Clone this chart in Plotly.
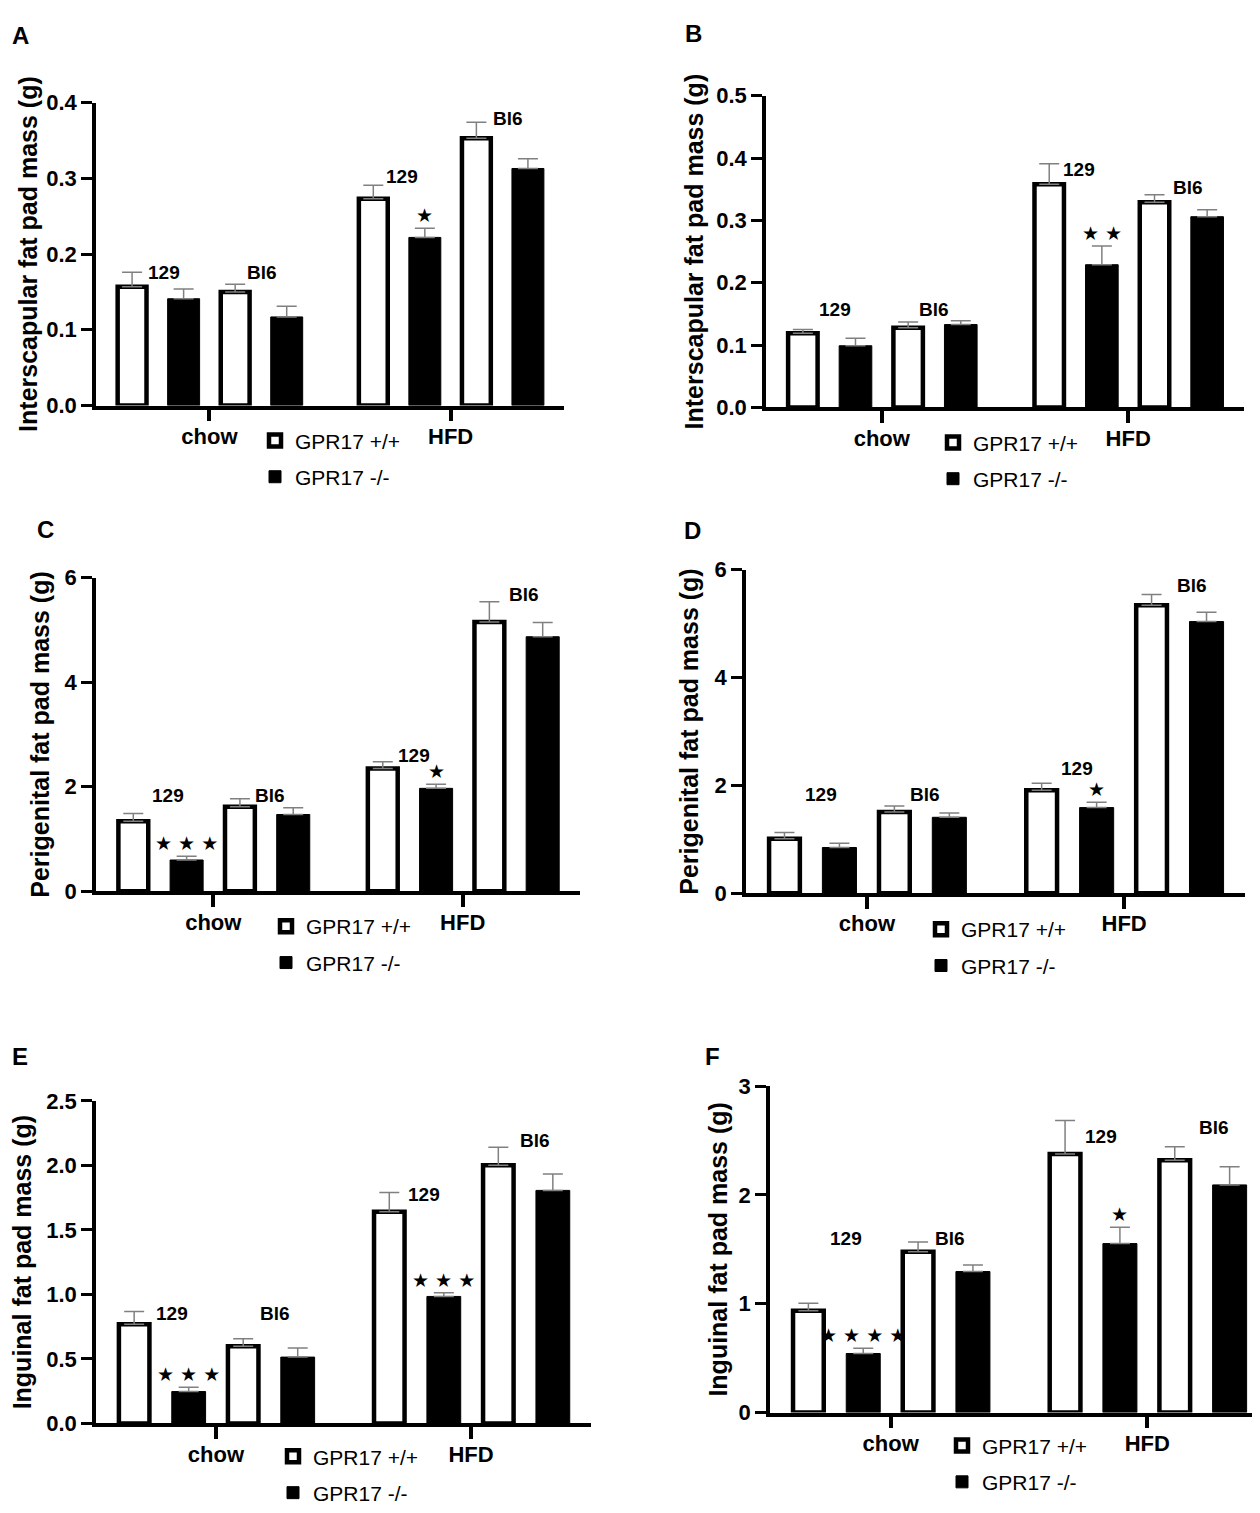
import plotly.graph_objects as go

FONT = "Liberation Sans, Arial, sans-serif"

diet_labels = ["chow", "HFD"]
legend_names = ["GPR17 +/+", "GPR17 -/-"]
# bar order in every panel: chow 129, chow Bl6, HFD 129, HFD Bl6
groups = ["chow 129", "chow Bl6", "HFD 129", "HFD Bl6"]

# A - interscapular, males
a_wt = [0.157, 0.150, 0.273, 0.353]
a_wt_sem = [0.019, 0.010, 0.018, 0.021]
a_ko = [0.141, 0.117, 0.222, 0.313]
a_ko_sem = [0.013, 0.014, 0.012, 0.013]
a_stars = ["", "", "★", ""]

# B - interscapular, females
b_wt = [0.119, 0.128, 0.358, 0.329]
b_wt_sem = [0.006, 0.009, 0.033, 0.012]
b_ko = [0.099, 0.133, 0.229, 0.306]
b_ko_sem = [0.012, 0.006, 0.030, 0.011]
b_stars = ["", "", "★ ★", ""]

# C - perigenital, males
c_wt = [1.34, 1.62, 2.35, 5.15]
c_wt_sem = [0.15, 0.15, 0.13, 0.39]
c_ko = [0.60, 1.47, 1.97, 4.87]
c_ko_sem = [0.07, 0.13, 0.08, 0.27]
c_stars = ["★ ★ ★", "", "★", ""]

# D - perigenital, females
d_wt = [1.01, 1.51, 1.91, 5.34]
d_wt_sem = [0.12, 0.11, 0.13, 0.20]
d_ko = [0.85, 1.41, 1.59, 5.04]
d_ko_sem = [0.08, 0.08, 0.10, 0.17]
d_stars = ["", "", "★", ""]

# E - inguinal, males
e_wt = [0.768, 0.598, 1.64, 2.00]
e_wt_sem = [0.10, 0.058, 0.15, 0.14]
e_ko = [0.247, 0.514, 0.984, 1.806]
e_ko_sem = [0.033, 0.071, 0.028, 0.127]
e_stars = ["★ ★ ★", "", "★ ★ ★", ""]

# F - inguinal, females
f_wt = [0.935, 1.477, 2.376, 2.318]
f_wt_sem = [0.069, 0.091, 0.307, 0.124]
f_ko = [0.543, 1.296, 1.553, 2.092]
f_ko_sem = [0.048, 0.061, 0.150, 0.166]
f_stars = ["★ ★ ★ ★", "", "★", ""]

# strain labels written over the bars (text, x in bar units, y in data units)
a_strain = [("129", -0.88, 0.176), ("Bl6", 1.03, 0.176), ("129", 3.74, 0.303), ("Bl6", 5.8, 0.379)]
b_strain = [("129", -0.89, 0.157), ("Bl6", 1.0, 0.157), ("129", 3.75, 0.382), ("Bl6", 5.81, 0.353)]
c_strain = [("129", -0.85, 1.83), ("Bl6", 1.06, 1.83), ("129", 3.77, 2.60), ("Bl6", 5.83, 5.67)]
d_strain = [("129", -0.84, 1.83), ("Bl6", 1.06, 1.83), ("129", 3.83, 2.31), ("Bl6", 5.91, 5.70)]
e_strain = [("129", -0.81, 0.85), ("Bl6", 1.09, 0.85), ("129", 3.82, 1.775), ("Bl6", 5.85, 2.19)]
f_strain = [("129", -0.82, 1.60), ("Bl6", 1.09, 1.60), ("129", 3.83, 2.54), ("Bl6", 5.89, 2.62)]

ytitles = ["Interscapular fat pad mass (g)", "Perigenital fat pad mass (g)", "Inguinal fat pad mass (g)"]

W, H = 1260, 1513
G = 4.68  # distance between the chow and HFD group centres, in bar spacings


def fx(v):
    return min(v / W, 1)


def fy(v):
    return 1 - v / H


# bar positions: 4 bars per diet, WT/KO pairs
wt_x = [(g // 2) * G + (g % 2) * 2 - 1.5 for g in range(len(groups))]
ko_x = [x + 1 for x in wt_x]

panels = [
    dict(letter="A", wt=a_wt, wt_sem=a_wt_sem, ko=a_ko, ko_sem=a_ko_sem, stars=a_stars, strain=a_strain,
         title=ytitles[0], ymax=0.4, dtick=0.1, fmt=".1f", box=(88, 556, 84, 392), standoff=3,
         letter_xy=(12, 16), leg=(292, 427)),
    dict(letter="B", wt=b_wt, wt_sem=b_wt_sem, ko=b_ko, ko_sem=b_ko_sem, stars=b_stars, strain=b_strain,
         title=ytitles[0], ymax=0.5, dtick=0.1, fmt=".1f", box=(758, 1236, 77, 394), standoff=6,
         letter_xy=(686, 14), leg=(970, 429)),
    dict(letter="C", wt=c_wt, wt_sem=c_wt_sem, ko=c_ko, ko_sem=c_ko_sem, stars=c_stars, strain=c_strain,
         title=ytitles[1], ymax=6, dtick=2, fmt="d", box=(88, 572, 567, 886), standoff=9,
         letter_xy=(37, 518), leg=(303, 921)),
    dict(letter="D", wt=d_wt, wt_sem=d_wt_sem, ko=d_ko, ko_sem=d_ko_sem, stars=d_stars, strain=d_strain,
         title=ytitles[1], ymax=6, dtick=2, fmt="d", box=(738, 1237, 559, 888), standoff=10,
         letter_xy=(684, 519), leg=(958, 924)),
    dict(letter="E", wt=e_wt, wt_sem=e_wt_sem, ko=e_ko, ko_sem=e_ko_sem, stars=e_stars, strain=e_strain,
         title=ytitles[2], ymax=2.5, dtick=0.5, fmt=".1f", box=(88, 583, 1099, 1427), standoff=10,
         letter_xy=(12, 1054), leg=(310, 1460)),
    dict(letter="F", wt=f_wt, wt_sem=f_wt_sem, ko=f_ko, ko_sem=f_ko_sem, stars=f_stars, strain=f_strain,
         title=ytitles[2], ymax=3, dtick=1, fmt="d", box=(762, 1260, 1084, 1416), standoff=5,
         letter_xy=(704, 1054), leg=(979, 1449)),
]

fig = go.Figure()
layout = {}
annotations = []

for i, p in enumerate(panels):
    n = "" if i == 0 else str(i + 1)
    xa, ya, lg = "x" + n, "y" + n, "legend" + n

    fig.add_trace(go.Bar(
        x=wt_x, y=p["wt"], width=0.56, name=legend_names[0],
        marker=dict(color="white", line=dict(color="black", width=4.5)),
        error_y=dict(type="data", symmetric=False, array=p["wt_sem"], arrayminus=[0] * 4,
                     color="#808080", thickness=1.5, width=10),
        xaxis=xa, yaxis=ya, legend=lg, legendgroup="wt" + n,
    ))
    fig.add_trace(go.Bar(
        x=ko_x, y=p["ko"], width=0.62, name=legend_names[1],
        marker=dict(color="black", line=dict(color="black", width=1)),
        error_y=dict(type="data", symmetric=False, array=p["ko_sem"], arrayminus=[0] * 4,
                     color="#808080", thickness=1.5, width=10),
        xaxis=xa, yaxis=ya, legend=lg, legendgroup="ko" + n,
    ))

    x0, x1, yt, yb = p["box"]
    layout["xaxis" + n] = dict(
        domain=[fx(x0), fx(x1)], range=[-2.2, 6.88], anchor=ya,
        tickvals=[0, G], ticktext=diet_labels, ticks="outside", ticklen=12, tickwidth=3.5,
        tickcolor="black", ticklabelstandoff=-4,
        tickfont=dict(family=FONT, size=22, color="black", weight="bold"),
        showline=True, linecolor="black", linewidth=3.5, showgrid=False, zeroline=False,
    )
    layout["yaxis" + n] = dict(
        domain=[fy(yb), fy(yt)], range=[0, p["ymax"]], anchor=xa, dtick=p["dtick"],
        tickformat=p["fmt"], ticks="outside", ticklen=11, tickwidth=3, tickcolor="black",
        tickfont=dict(family=FONT, size=22, color="black", weight="bold"),
        showline=True, linecolor="black", linewidth=3.5, showgrid=False, zeroline=False,
        title=dict(text=p["title"], standoff=p["standoff"],
                   font=dict(family=FONT, size=25, color="black", weight="bold")),
    )
    lx, ly = p["leg"]
    layout[lg] = dict(
        x=fx(lx - 45), y=fy(ly - 20), xanchor="left", yanchor="top",
        bgcolor="rgba(0,0,0,0)", tracegroupgap=6, itemwidth=30,
        font=dict(family=FONT, size=21, color="black"),
    )

    # panel letter
    annotations.append(dict(
        text=p["letter"], x=fx(p["letter_xy"][0]), y=fy(p["letter_xy"][1]), xref="paper", yref="paper",
        showarrow=False, xanchor="center", yanchor="middle",
        font=dict(family=FONT, size=24, color="black", weight="bold"),
    ))
    # strain labels
    for txt, sx, sy in p["strain"]:
        annotations.append(dict(
            text=txt, x=sx, y=sy, xref=xa, yref=ya, showarrow=False,
            font=dict(family=FONT, size=19, color="black", weight="bold"),
        ))
    # significance stars over the knockout bars
    for g, s in enumerate(p["stars"]):
        if s:
            annotations.append(dict(
                text=s, x=ko_x[g], y=p["ko"][g] + p["ko_sem"][g], xref=xa, yref=ya,
                showarrow=False, yanchor="middle", yshift=13,
                font=dict(family="DejaVu Sans", size=19, color="black"),
            ))

fig.update_layout(
    width=W, height=H, margin=dict(l=0, r=0, t=0, b=0),
    paper_bgcolor="white", plot_bgcolor="white",
    barmode="overlay", showlegend=True, annotations=annotations,
    font=dict(family=FONT, color="black"),
    **layout,
)

fig.write_html("out.html")
